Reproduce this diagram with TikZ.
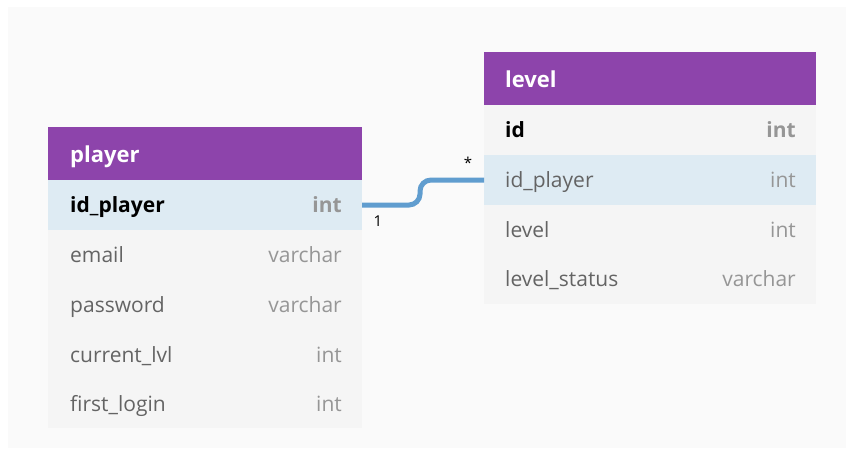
\documentclass[tikz,border=0pt]{standalone}
\usepackage{fontspec}
\setmainfont{Open Sans}
\definecolor{hdr}{RGB}{141,68,171}
\definecolor{keyrow}{RGB}{222,235,243}
\definecolor{plainrow}{RGB}{245,245,245}
\definecolor{canvas}{RGB}{250,250,250}
\definecolor{link}{RGB}{96,157,207}
\definecolor{fieldtxt}{RGB}{100,100,100}
\definecolor{typetxt}{RGB}{150,150,150}
\begin{document}
\begin{tikzpicture}[x=1pt,y=-1pt,
  cell/.style={rectangle, inner sep=0pt, outer sep=0pt, minimum height=50pt},
  pcell/.style={cell, minimum width=314pt},
  lcell/.style={cell, minimum width=332pt},
  head/.style={fill=hdr, minimum height=53pt},
  keyfill/.style={fill=keyrow},
  plainfill/.style={fill=plainrow},
  title/.style={anchor=base west, inner sep=0pt, text=white, font=\fontsize{22}{24}\selectfont\bfseries},
  fname/.style={anchor=base west, inner sep=0pt, text=fieldtxt, font=\fontsize{21}{23}\selectfont},
  fkey/.style={fname, text=black, font=\fontsize{21}{23}\selectfont\bfseries},
  ftype/.style={anchor=base east, inner sep=0pt, text=typetxt, font=\fontsize{21}{23}\selectfont},
  ftypekey/.style={ftype, font=\fontsize{21}{23}\selectfont\bfseries},
  card/.style={inner sep=0pt, font=\fontsize{15}{17}\selectfont}
]
\useasboundingbox (0,0) rectangle (846,455);
\fill[canvas] (8,7) rectangle (846,448);

% table: player
\node[pcell, head]      (ph) at (205,153.5) {};
\node[pcell, keyfill]   (p1) at (205,205) {};
\node[pcell, plainfill] (p2) at (205,255) {};
\node[pcell, plainfill] (p3) at (205,305) {};
\node[pcell, plainfill] (p4) at (205,355) {};
\node[pcell, plainfill, minimum height=48pt] (p5) at (205,404) {};
\node[title] (pht) at ([xshift=22pt,yshift=-8.5pt]ph.west) {player};
\node[fkey]  (p1n) at ([xshift=22pt,yshift=-7.5pt]p1.west) {id\_player};
\node[ftypekey] (p1t) at ([xshift=-20pt,yshift=-7.5pt]p1.east) {int};
\node[fname] (p2n) at ([xshift=22pt,yshift=-7.5pt]p2.west) {email};
\node[ftype] (p2t) at ([xshift=-20pt,yshift=-7.5pt]p2.east) {varchar};
\node[fname] (p3n) at ([xshift=22pt,yshift=-7.5pt]p3.west) {password};
\node[ftype] (p3t) at ([xshift=-20pt,yshift=-7.5pt]p3.east) {varchar};
\node[fname] (p4n) at ([xshift=22pt,yshift=-7.5pt]p4.west) {current\_lvl};
\node[ftype] (p4t) at ([xshift=-20pt,yshift=-7.5pt]p4.east) {int};
\node[fname] (p5n) at ([xshift=22pt,yshift=-7.5pt]p5.west) {first\_login};
\node[ftype] (p5t) at ([xshift=-20pt,yshift=-7.5pt]p5.east) {int};

% table: level
\node[lcell, head]      (lh) at (650,78.5) {};
\node[lcell, plainfill] (l1) at (650,130) {};
\node[lcell, keyfill]   (l2) at (650,180) {};
\node[lcell, plainfill] (l3) at (650,229.5) {};
\node[lcell, plainfill] (l4) at (650,279) {};
\node[title] (lht) at ([xshift=21pt,yshift=-8.5pt]lh.west) {level};
\node[fkey]  (l1n) at ([xshift=21pt,yshift=-7.5pt]l1.west) {id};
\node[ftypekey] (l1t) at ([xshift=-20pt,yshift=-7.5pt]l1.east) {int};
\node[fname] (l2n) at ([xshift=21pt,yshift=-7.5pt]l2.west) {id\_player};
\node[ftype] (l2t) at ([xshift=-20pt,yshift=-7.5pt]l2.east) {int};
\node[fname] (l3n) at ([xshift=21pt,yshift=-7.5pt]l3.west) {level};
\node[ftype] (l3t) at ([xshift=-20pt,yshift=-7.5pt]l3.east) {int};
\node[fname] (l4n) at ([xshift=21pt,yshift=-7.5pt]l4.west) {level\_status};
\node[ftype] (l4t) at ([xshift=-20pt,yshift=-7.5pt]l4.east) {varchar};

% relation player.id_player 1 -- * level.id_player
\coordinate (bendA) at (420,205);
\coordinate (bendB) at (420,180);
\draw[link, line width=5pt, rounded corners=11pt]
  (p1.east) -- (bendA) -- (bendB) -- (l2.west);
\node[card] (c1) at (378,221) {1};
\node[card] (c2) at (468,163) {*};
\end{tikzpicture}
\end{document}
